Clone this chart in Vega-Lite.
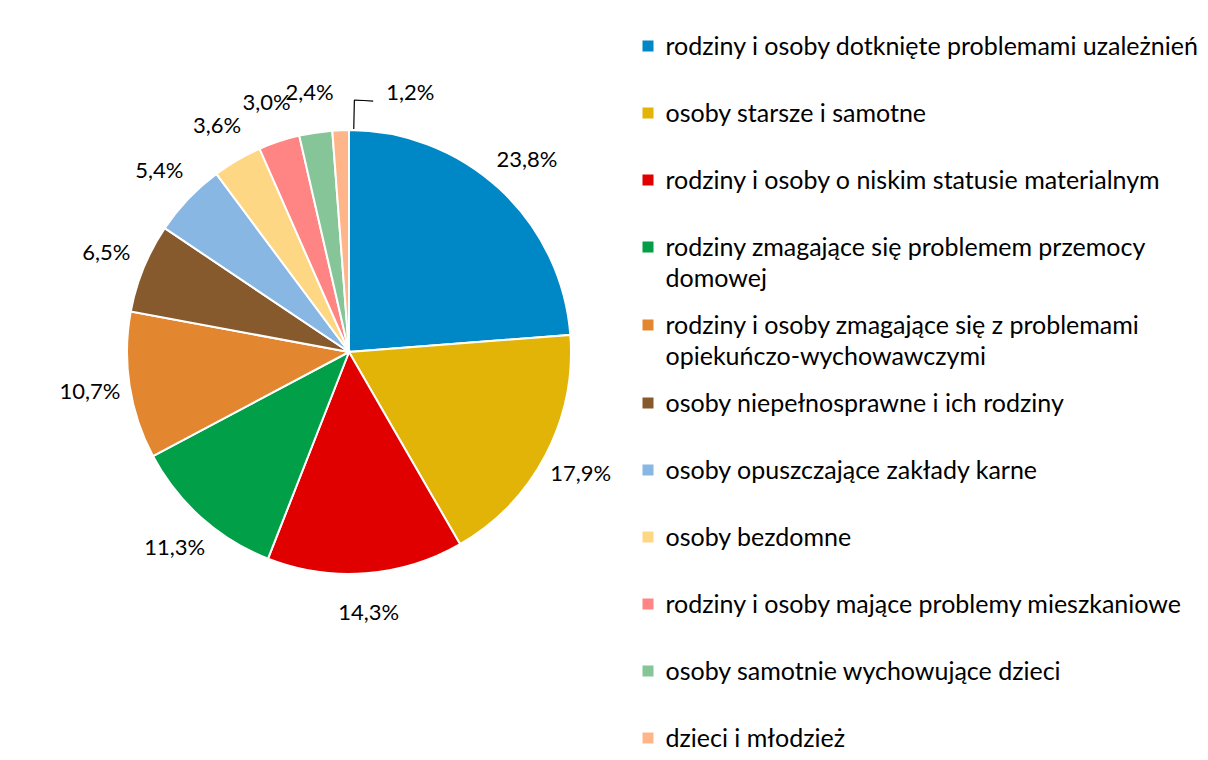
{
  "$schema": "https://vega.github.io/schema/vega-lite/v6.json",
  "width": 684,
  "height": 682,
  "padding": {"left": 7, "top": 11, "right": 0, "bottom": 0},
  "background": "white",
  "config": {
    "view": {"stroke": null},
    "font": "Lato",
    "style": {"guide-label": {"dy": -11.5, "lineHeight": 31}},
    "locale": {"number": {"decimal": ",", "thousands": " ", "grouping": [3], "currency": ["", " zł"]}}
  },
  "data": {
    "values": [
      {"category": "rodziny i osoby dotknięte problemami uzależnień", "share": 0.238, "order": 1},
      {"category": "osoby starsze i samotne", "share": 0.179, "order": 2},
      {"category": "rodziny i osoby o niskim statusie materialnym", "share": 0.143, "order": 3},
      {"category": "rodziny zmagające się problemem przemocy domowej", "share": 0.113, "order": 4},
      {"category": "rodziny i osoby zmagające się z problemami opiekuńczo-wychowawczymi", "share": 0.107, "order": 5},
      {"category": "osoby niepełnosprawne i ich rodziny", "share": 0.065, "order": 6},
      {"category": "osoby opuszczające zakłady karne", "share": 0.054, "order": 7},
      {"category": "osoby bezdomne", "share": 0.036, "order": 8},
      {"category": "rodziny i osoby mające problemy mieszkaniowe", "share": 0.030, "order": 9},
      {"category": "osoby samotnie wychowujące dzieci", "share": 0.024, "order": 10},
      {"category": "dzieci i młodzież", "share": 0.012, "order": 11}
    ]
  },
  "encoding": {
    "theta": {"field": "share", "type": "quantitative", "stack": true},
    "order": {"field": "order", "type": "quantitative"}
  },
  "layer": [
    {
      "mark": {"type": "arc", "outerRadius": 222, "stroke": "white", "strokeWidth": 2},
      "encoding": {
        "color": {
          "field": "category",
          "type": "nominal",
          "scale": {
            "domain": [
              "rodziny i osoby dotknięte problemami uzależnień",
              "osoby starsze i samotne",
              "rodziny i osoby o niskim statusie materialnym",
              "rodziny zmagające się problemem przemocy domowej",
              "rodziny i osoby zmagające się z problemami opiekuńczo-wychowawczymi",
              "osoby niepełnosprawne i ich rodziny",
              "osoby opuszczające zakłady karne",
              "osoby bezdomne",
              "rodziny i osoby mające problemy mieszkaniowe",
              "osoby samotnie wychowujące dzieci",
              "dzieci i młodzież"
            ],
            "range": ["#0088C6", "#E2B407", "#E00000", "#009F48", "#E2872F", "#875A2E", "#88B7E3", "#FDD783", "#FF8484", "#86C597", "#FFB58A"]
          },
          "legend": {
            "title": null,
            "orient": "right",
            "offset": -57.5,
            "padding": 1.5,
            "symbolType": "square",
            "symbolSize": 121,
            "symbolStrokeWidth": 0,
            "labelFont": "Lato",
            "labelFontSize": 25,
            "labelColor": "#000000",
            "labelLimit": 700,
            "labelOffset": 5,
            "labelBaseline": "top",
            "clipHeight": 67,
            "rowPadding": 0,
            "labelExpr": "datum.label == 'rodziny zmagające się problemem przemocy domowej' ? ['rodziny zmagające się problemem przemocy', 'domowej'] : datum.label == 'rodziny i osoby zmagające się z problemami opiekuńczo-wychowawczymi' ? ['rodziny i osoby zmagające się z problemami', 'opiekuńczo-wychowawczymi'] : datum.label"
          }
        }
      }
    },
    {
      "mark": {"type": "arc", "innerRadius": 223, "outerRadius": 252, "padAngle": 0.4, "thetaOffset": 0.059, "fillOpacity": 0, "stroke": "#000000", "strokeWidth": 1.2},
      "encoding": {
        "strokeOpacity": {"condition": {"test": "datum.category == 'dzieci i młodzież'", "value": 1}, "value": 0}
      }
    },
    {
      "mark": {"type": "arc", "innerRadius": 252, "outerRadius": 252, "thetaOffset": 0.096, "fillOpacity": 0, "stroke": "#000000", "strokeWidth": 1.2},
      "encoding": {
        "strokeOpacity": {"condition": {"test": "datum.category == 'dzieci i młodzież'", "value": 1}, "value": 0}
      }
    },
    {
      "mark": {"type": "text", "radius": 262, "fontSize": 22, "color": "#000000"},
      "encoding": {
        "text": {
          "field": "share",
          "type": "quantitative",
          "format": ".1%",
          "condition": {"test": "datum.category == 'dzieci i młodzież'", "value": ""}
        }
      }
    },
    {
      "mark": {"type": "text", "radius": 259, "dx": 71, "fontSize": 22, "color": "#000000"},
      "encoding": {
        "text": {
          "condition": {"test": "datum.category == 'dzieci i młodzież'", "field": "share", "type": "quantitative", "format": ".1%"},
          "value": ""
        }
      }
    }
  ]
}
